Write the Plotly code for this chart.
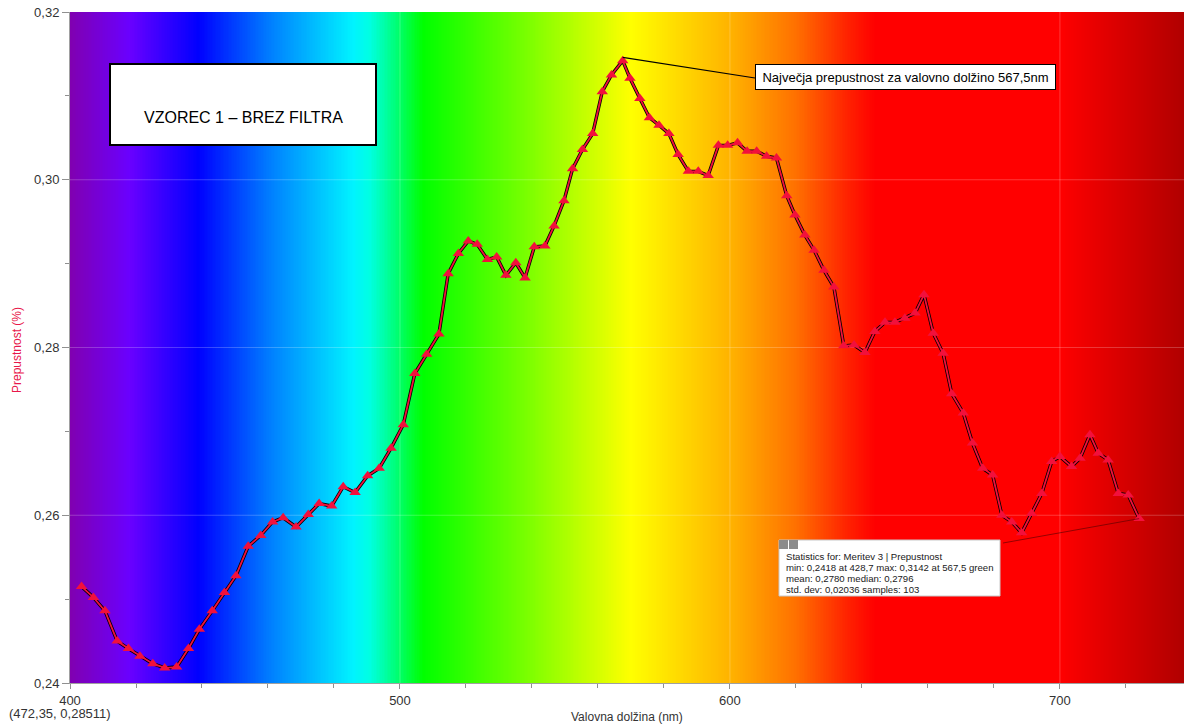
import numpy as np
import plotly.graph_objects as go

# ---------------- data ----------------
wavelength = [403.5, 407.1, 410.6, 414.3, 417.7, 421.2, 425.1, 428.7, 432.3, 435.9,
              439.2, 443.1, 446.8, 450.3, 454.0, 457.8, 461.4, 464.6, 468.5, 472.2,
              475.5, 479.3, 482.8, 486.4, 490.2, 493.7, 497.3, 501.0, 504.5, 508.1,
              511.8, 514.6, 517.7, 520.7, 523.4, 526.5, 529.3, 532.1, 535.1, 537.9,
              540.7, 543.9, 546.7, 549.7, 552.3, 555.3, 558.4, 561.3, 564.1, 567.5,
              569.7, 572.7, 575.6, 578.5, 581.5, 584.3, 587.4, 590.4, 593.4, 596.5,
              599.3, 602.3, 605.2, 608.1, 611.1, 614.1, 617.2, 619.7, 622.7, 625.5,
              628.5, 631.5, 634.5, 637.6, 640.9, 643.9, 647.0, 650.0, 653.0, 656.1,
              658.8, 661.6, 664.6, 667.2, 670.7, 673.5, 676.6, 679.6, 682.4, 685.4,
              688.4, 691.4, 694.5, 697.5, 700.0, 703.5, 706.1, 709.1, 711.6, 714.6,
              717.7, 720.7, 724.0]
transmittance = [0.2515, 0.2502, 0.2486, 0.2450, 0.2441, 0.2432, 0.2423, 0.2418, 0.2419, 0.2441,
                 0.2464, 0.2486, 0.2508, 0.2528, 0.2563, 0.2576, 0.2592, 0.2597, 0.2586, 0.2601,
                 0.2614, 0.2611, 0.2634, 0.2627, 0.2647, 0.2656, 0.2680, 0.2708, 0.2769, 0.2792,
                 0.2816, 0.2888, 0.2912, 0.2927, 0.2923, 0.2905, 0.2908, 0.2886, 0.2901, 0.2883,
                 0.2920, 0.2921, 0.2945, 0.2975, 0.3013, 0.3036, 0.3055, 0.3105, 0.3125, 0.3142,
                 0.3121, 0.3097, 0.3074, 0.3065, 0.3055, 0.3030, 0.3010, 0.3010, 0.3005, 0.3041,
                 0.3041, 0.3044, 0.3034, 0.3034, 0.3028, 0.3026, 0.2981, 0.2958, 0.2934, 0.2916,
                 0.2892, 0.2872, 0.2802, 0.2803, 0.2794, 0.2819, 0.2830, 0.2830, 0.2835, 0.2841,
                 0.2863, 0.2817, 0.2793, 0.2745, 0.2722, 0.2686, 0.2656, 0.2648, 0.2600, 0.2592,
                 0.2579, 0.2602, 0.2626, 0.2664, 0.2670, 0.2658, 0.2668, 0.2696, 0.2674, 0.2666,
                 0.2626, 0.2624, 0.2596]

x_range = [400, 737.6]
y_range = [0.24, 0.32]
y_ticks = [0.24, 0.26, 0.28, 0.30, 0.32]
x_ticks = [400, 500, 600, 700]

title_text = "VZOREC 1 – BREZ FILTRA"
peak_text = "Največja prepustnost za valovno dolžino 567,5nm"
stats_lines = ["Statistics for: Meritev 3 | Prepustnost",
               "min: 0,2418 at 428,7 max: 0,3142 at 567,5 green",
               "mean: 0,2780 median: 0,2796",
               "std. dev: 0,02036 samples: 103"]
cursor_text = "(472,35, 0,28511)"

# spectrum background stops (nm, colour)
spectrum = [(400, "#8000b0"), (418, "#6a00ff"), (439, "#0000ff"), (461, "#0080ff"),
            (486, "#00f4ff"), (491, "#00ffe0"), (497, "#00ff90"), (507, "#00ff00"),
            (540, "#80ff00"), (570, "#ffff00"), (601, "#ffb000"), (620, "#ff7000"),
            (636, "#ff2000"), (644, "#ff0000"), (700, "#ff0000"), (737.6, "#b00000")]

# ---------------- layout helpers ----------------
W, H = 1184, 728
L, R, T, B = 70, 0, 12, 45
PW, PH = W - L - R, H - T - B


def px(xp):
    return (xp - L) / PW


def py(yp):
    return (H - B - yp) / PH


def to_data(xp, yp):
    return (x_range[0] + (xp - L) / PW * (x_range[1] - x_range[0]),
            y_range[0] + (H - B - yp) / PH * (y_range[1] - y_range[0]))


FONT = "Liberation Sans, Arial, sans-serif"

fig = go.Figure()

# background spectrum
nx = 700
edges = np.linspace(x_range[0], x_range[1], nx + 1)
centers = (edges[:-1] + edges[1:]) / 2
span = x_range[1] - x_range[0]
cscale = [[(nm - x_range[0]) / span, c] for nm, c in spectrum]
fig.add_trace(go.Heatmap(x=edges, y=y_range, z=[centers], colorscale=cscale,
                         zmin=x_range[0], zmax=x_range[1], showscale=False,
                         hoverinfo="skip"))

# faint grid lines above the background
gx, gy = [], []
for t in y_ticks[1:-1]:
    gx += [x_range[0], x_range[1], None]
    gy += [t, t, None]
for t in x_ticks[1:]:
    gx += [t, t, None]
    gy += [y_range[0], y_range[1], None]
fig.add_trace(go.Scatter(x=gx, y=gy, mode="lines",
                         line=dict(color="rgba(255,255,255,0.22)", width=1),
                         hoverinfo="skip", showlegend=False))

# data: black line with red line + triangle markers
fig.add_trace(go.Scatter(x=wavelength, y=transmittance, mode="lines",
                         line=dict(color="black", width=3.4),
                         hoverinfo="skip", showlegend=False))
fig.add_trace(go.Scatter(x=wavelength, y=transmittance, mode="lines+markers",
                         line=dict(color="#f0103c", width=1.8),
                         marker=dict(symbol="triangle-up", size=10, color="#f2103c",
                                     line=dict(width=0)),
                         showlegend=False))

shapes = []
annotations = []

# title box
shapes.append(dict(type="rect", xref="paper", yref="paper",
                   x0=px(110), x1=px(376), y0=py(145), y1=py(64),
                   fillcolor="white", line=dict(color="black", width=2), layer="above"))
annotations.append(dict(xref="paper", yref="paper", x=px(243), y=py(117),
                        text=title_text, showarrow=False,
                        font=dict(family=FONT, size=16, color="black"),
                        xanchor="center", yanchor="middle"))

# peak annotation
imax = int(np.argmax(transmittance))
ex, ey = to_data(755, 78)
shapes.append(dict(type="line", xref="x", yref="y",
                   x0=wavelength[imax], y0=transmittance[imax] + 0.0004, x1=ex, y1=ey,
                   line=dict(color="black", width=1.2), layer="above"))
annotations.append(dict(xref="paper", yref="paper", x=px(905.5), y=py(77.5),
                        text=peak_text, showarrow=False,
                        font=dict(family=FONT, size=13, color="black"),
                        bgcolor="white", bordercolor="black", borderwidth=1,
                        borderpad=3, width=293, height=18,
                        xanchor="center", yanchor="middle"))

# statistics box
lx, ly = to_data(1003, 543)
shapes.append(dict(type="line", xref="x", yref="y",
                   x0=lx, y0=ly, x1=wavelength[-1], y1=transmittance[-1],
                   line=dict(color="rgba(90,0,0,0.8)", width=0.8), layer="above"))
shapes.append(dict(type="rect", xref="paper", yref="paper",
                   x0=px(779), x1=px(1000), y0=py(596), y1=py(540),
                   fillcolor="white", line=dict(color="#c8c8c8", width=1), layer="above"))
for a, b in [(779, 788), (789, 798)]:
    shapes.append(dict(type="rect", xref="paper", yref="paper",
                       x0=px(a), x1=px(b), y0=py(549), y1=py(540),
                       fillcolor="#8c8c8c", line=dict(color="#8c8c8c", width=0),
                       layer="above"))
for i, s in enumerate(stats_lines):
    annotations.append(dict(xref="paper", yref="paper", x=px(784), y=py(556 + 11 * i),
                            text=s, showarrow=False,
                            font=dict(family=FONT, size=9.6, color="#1a1a1a"),
                            xanchor="left", yanchor="middle"))

# axis titles and cursor readout
annotations.append(dict(xref="paper", yref="paper", x=px(627), y=py(717),
                        text="Valovna dolžina (nm)", showarrow=False,
                        font=dict(family=FONT, size=12, color="#333333"),
                        xanchor="center", yanchor="middle"))
annotations.append(dict(xref="paper", yref="paper", x=px(17), y=py(350),
                        text="Prepustnost (%)", showarrow=False, textangle=-90,
                        font=dict(family=FONT, size=12, color="#e8174a"),
                        xanchor="center", yanchor="middle"))
annotations.append(dict(xref="paper", yref="paper", x=px(7), y=py(713),
                        text=cursor_text, showarrow=False,
                        font=dict(family=FONT, size=13, color="#333333"),
                        xanchor="left", yanchor="middle"))

fig.update_layout(
    width=W, height=H,
    margin=dict(l=L, r=R, t=T, b=B, pad=0),
    paper_bgcolor="white", plot_bgcolor="white",
    separators=", ",
    font=dict(family=FONT, size=13, color="#333333"),
    shapes=shapes, annotations=annotations,
    showlegend=False,
)
fig.update_xaxes(range=x_range, tickvals=x_ticks, ticks="outside", ticklen=5,
                 tickcolor="#909090", showline=True, linecolor="#a0a0a0", linewidth=1,
                 showgrid=False, zeroline=False,
                 tickfont=dict(family=FONT, size=13, color="#333333"),
                 minor=dict(dtick=20, tick0=400, ticks="outside", ticklen=4,
                            tickcolor="#909090", showgrid=False))
fig.update_yaxes(range=y_range, tickvals=y_ticks, tickformat=".2f", ticks="outside",
                 ticklen=7, tickcolor="#909090", showline=True, linecolor="#a0a0a0",
                 linewidth=1, showgrid=False, zeroline=False,
                 tickfont=dict(family=FONT, size=13, color="#333333"),
                 minor=dict(dtick=0.01, tick0=0.24, ticks="outside", ticklen=4,
                            tickcolor="#909090", showgrid=False))

fig.write_html("out.html")
